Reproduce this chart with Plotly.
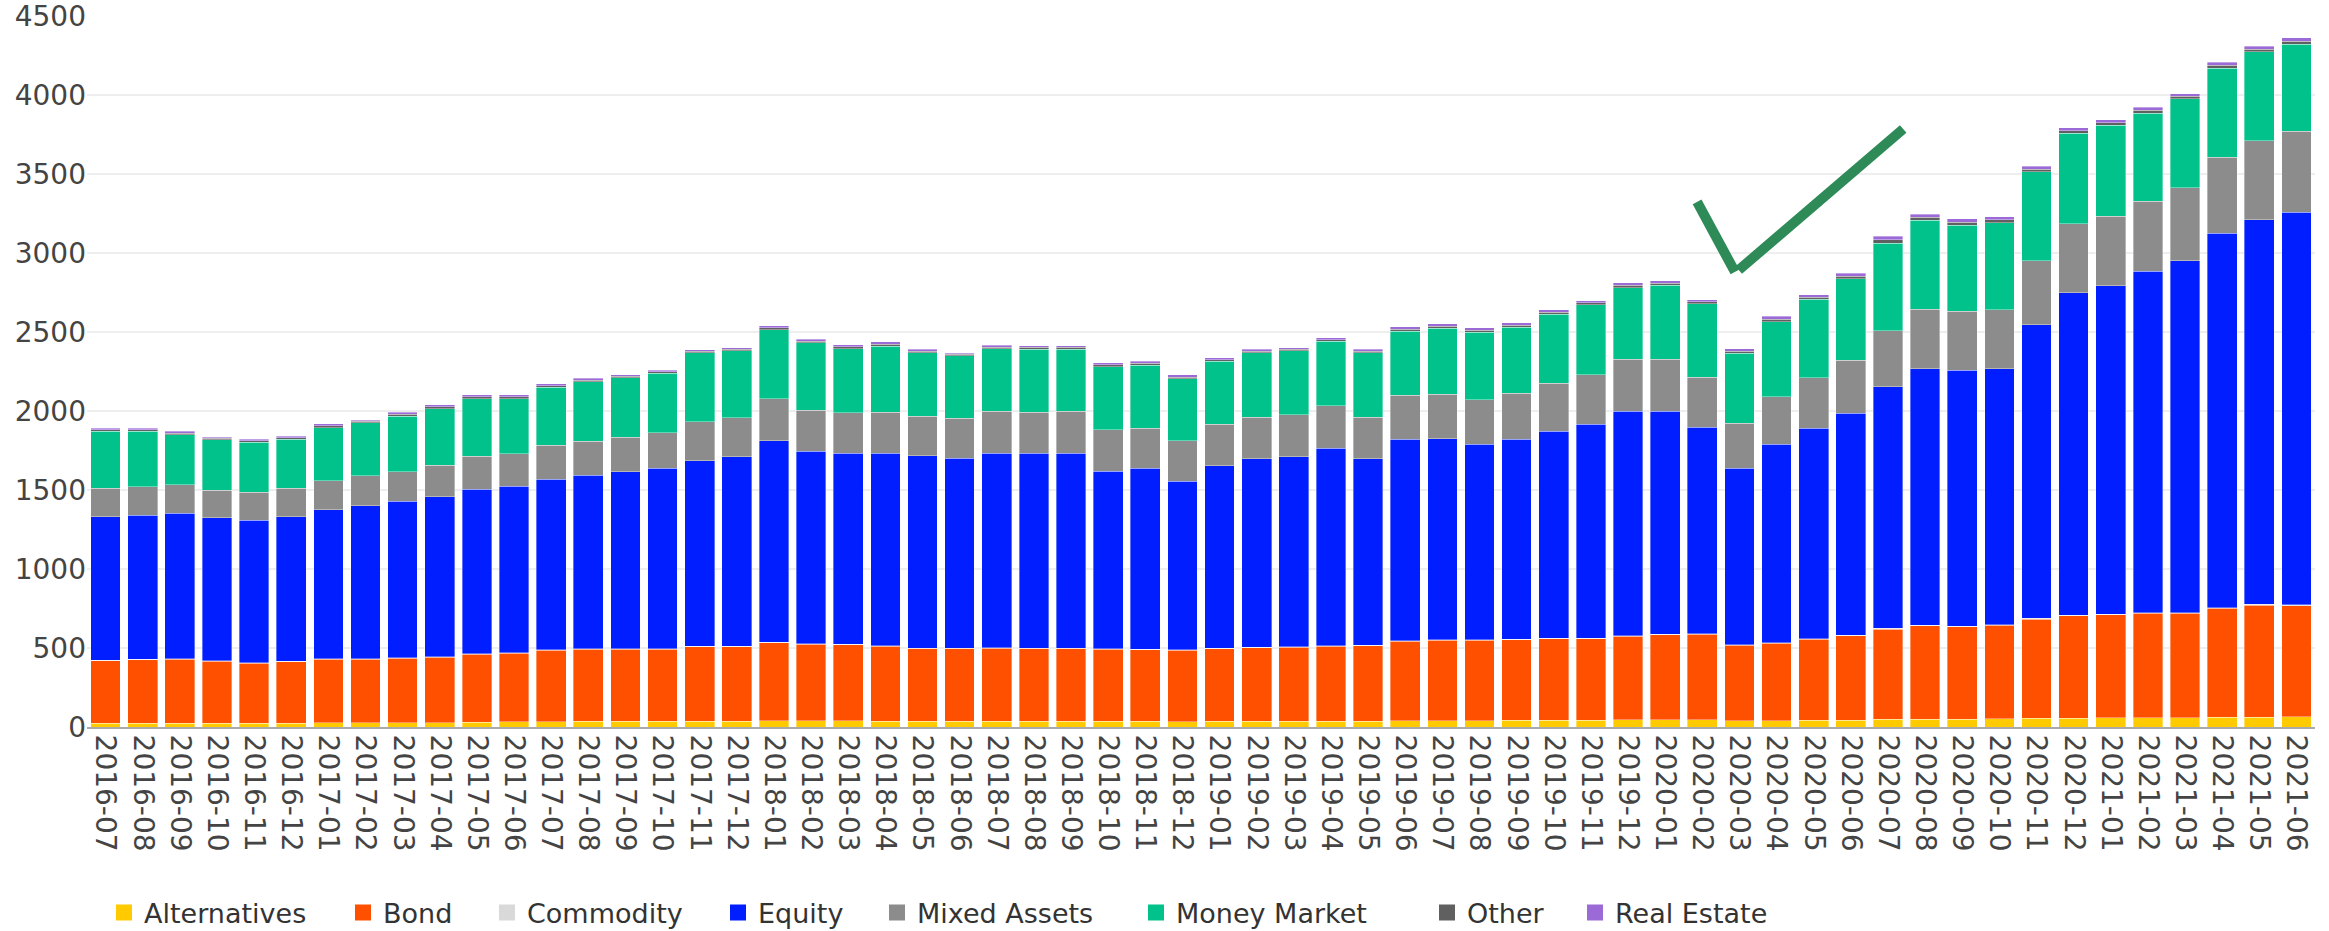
import plotly.graph_objects as go

months = [f"{y}-{m:02d}" for y, m in
          [(2016, m) for m in range(7, 13)] + [(2017, m) for m in range(1, 13)] +
          [(2018, m) for m in range(1, 13)] + [(2019, m) for m in range(1, 13)] +
          [(2020, m) for m in range(1, 13)] + [(2021, m) for m in range(1, 7)]]

alternatives = [24, 25, 25, 24, 24, 24, 26, 26, 27, 28, 30, 32, 34, 35, 36, 36, 37, 38,
                40, 39, 39, 38, 37, 36, 36, 36, 36, 35, 35, 34, 35, 36, 37, 38, 38, 40,
                41, 41, 42, 43, 44, 45, 46, 46, 40, 40, 42, 44, 48, 50, 50, 51, 54, 56,
                57, 58, 59, 61, 63, 64]
bond = [395, 400, 403, 392, 380, 389, 402, 402, 407, 415, 431, 435, 451, 456, 455, 455, 472, 471,
        493, 485, 482, 474, 460, 461, 464, 461, 461, 456, 453, 451, 459, 467, 469, 474, 477, 502,
        507, 507, 509, 517, 516, 530, 538, 541, 478, 490, 512, 534, 572, 591, 585, 593, 629, 648,
        653, 661, 660, 690, 709, 705]
commodity = [3] * 48 + [4] * 12
equity = [910, 913, 922, 904, 901, 916, 943, 970, 991, 1012, 1042, 1054, 1081, 1099, 1120, 1144, 1174, 1198,
          1275, 1219, 1210, 1219, 1216, 1201, 1231, 1234, 1234, 1126, 1147, 1066, 1156, 1192, 1201, 1249, 1180, 1275,
          1272, 1239, 1266, 1308, 1353, 1422, 1413, 1308, 1117, 1257, 1335, 1404, 1529, 1624, 1618, 1618, 1858, 2041,
          2079, 2160, 2229, 2371, 2434, 2484]
mixed_assets = [180, 180, 180, 177, 177, 180, 186, 189, 189, 198, 207, 207, 215, 215, 221, 224, 245, 248,
                267, 260, 254, 257, 251, 254, 263, 257, 263, 260, 254, 257, 263, 263, 266, 269, 263, 279,
                282, 282, 291, 306, 312, 329, 326, 315, 284, 300, 318, 335, 356, 375, 375, 375, 407, 437,
                440, 446, 461, 479, 500, 513]
money_market = [359, 350, 317, 317, 317, 308, 335, 335, 350, 359, 365, 347, 366, 378, 375, 378, 437, 422,
                437, 425, 407, 419, 401, 395, 398, 401, 395, 401, 398, 393, 398, 407, 404, 407, 407, 407,
                419, 428, 419, 434, 443, 452, 470, 467, 443, 476, 497, 518, 554, 563, 545, 551, 563, 571,
                575, 554, 563, 563, 563, 550]
other = [10, 10, 10, 9, 9, 10, 11, 9, 11, 11, 11, 11, 10, 10, 10, 9, 10, 10,
         11, 11, 11, 12, 11, 8, 10, 10, 10, 11, 11, 11, 11, 11, 10, 11, 11, 12,
         12, 12, 14, 14, 13, 14, 13, 11, 14, 16, 14, 16, 20, 19, 19, 17, 16, 17,
         17, 19, 16, 19, 17, 20]
real_estate = [11, 11, 11, 9, 9, 11, 13, 9, 13, 13, 13, 13, 11, 11, 11, 9, 11, 11,
               13, 13, 13, 15, 13, 7, 11, 11, 11, 13, 13, 13, 13, 13, 11, 13, 13, 15,
               15, 15, 16, 16, 14, 16, 14, 13, 16, 17, 16, 17, 22, 20, 20, 19, 17, 19,
               19, 20, 17, 20, 18, 22]

series = [("Alternatives", alternatives, "#FFCA00"),
          ("Bond", bond, "#FF5000"),
          ("Commodity", commodity, "#D9D9D9"),
          ("Equity", equity, "#001EFF"),
          ("Mixed Assets", mixed_assets, "#8C8C8C"),
          ("Money Market", money_market, "#00C28A"),
          ("Other", other, "#606060"),
          ("Real Estate", real_estate, "#9B6AD6")]

# legend text start positions (screen px) in the reference
legend_text_px = [152, 391, 535, 766, 925, 1184, 1475, 1623]

WIDTH, HEIGHT = 2329, 931
PLOT_L, PLOT_R = 87, 2315
PLOT_T, PLOT_B = 16, 727
FONT = "DejaVu Sans"
TICK_SIZE = 28

fig = go.Figure()
layout_legends = {}
for i, (name, vals, col) in enumerate(series):
    lg = "legend" if i == 0 else f"legend{i + 1}"
    fig.add_trace(go.Bar(x=months, y=vals, name=name, marker_color=col,
                         marker_line=dict(width=0.6, color="rgba(255,255,255,0.6)"),
                         legendgroup=name, showlegend=False))
    # legend-only entry with a larger square swatch
    fig.add_trace(go.Scatter(x=[None], y=[None], mode="markers", name=name,
                             legendgroup=name, legend=lg, hoverinfo="skip",
                             marker=dict(symbol="square", size=16, color=col)))
    left = legend_text_px[i] - 8 - 40
    layout_legends[lg] = dict(orientation="h", xref="container", yref="container",
                              x=left / WIDTH, xanchor="left",
                              y=(HEIGHT - 913) / HEIGHT, yanchor="middle",
                              bgcolor="rgba(0,0,0,0)",
                              font=dict(family=FONT, size=27, color="#333"))

# check mark annotation (data coordinates: category index, value)
chk = dict(type="line", xref="x", yref="y", line=dict(color="#2E8B57", width=10))
fig.add_shape(**chk, x0=42.86, y0=3323, x1=43.88, y1=2880)
fig.add_shape(**chk, x0=43.98, y0=2892, x1=48.41, y1=3785)

fig.update_layout(
    width=WIDTH, height=HEIGHT,
    margin=dict(l=PLOT_L, r=WIDTH - PLOT_R, t=PLOT_T, b=HEIGHT - PLOT_B, autoexpand=False),
    barmode="stack", bargap=0.2,
    plot_bgcolor="white", paper_bgcolor="white",
    font=dict(family=FONT, size=TICK_SIZE, color="#444"),
    showlegend=True,
    **layout_legends,
)
fig.update_xaxes(type="category", tickangle=90, showgrid=False, automargin=False,
                 showline=True, linecolor="#AAAAAA", linewidth=2,
                 tickfont=dict(family=FONT, size=TICK_SIZE, color="#444"))
fig.update_yaxes(range=[0, 4500], dtick=500, showgrid=True, gridcolor="#EEEEEE",
                 gridwidth=1.5, zeroline=False, showline=False, automargin=False,
                 ticklabeloverflow="allow",
                 tickfont=dict(family=FONT, size=TICK_SIZE, color="#444"))

# remove the default 8px page margin so the figure sits at the window's corner
fig.write_html("out.html",
               config={"displayModeBar": False},
               post_script="document.body.style.margin='0';"
                           "document.body.style.overflow='hidden';")
